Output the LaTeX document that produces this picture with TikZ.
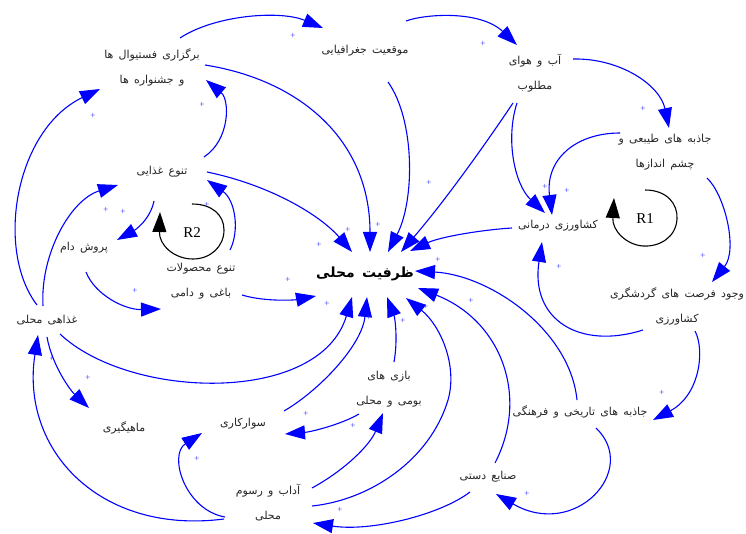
\documentclass[tikz,border=0pt]{standalone}
\usepackage{fontspec}
\TeXXeTstate=1
\setmainfont{Liberation Serif}
\newfontfamily\arabicfont[Script=Arabic,WordSpace=1.5]{DejaVu Sans}
\usetikzlibrary{arrows.meta,calc}
\begin{document}
\begin{tikzpicture}[x=1pt,y=-1pt,
  lbl/.style={inner sep=0pt, align=center, text=black!85, font=\arabicfont\fontsize{11}{25}\selectfont},
  e/.style={draw=blue, line width=1.1pt, -{Triangle[length=20pt,width=14pt]}},
  loopr/.style={draw=black, line width=1.1pt, -{Triangle[length=20pt,width=14pt]}},
  pl/.style={text=blue!80, font=\fontsize{9}{9}\selectfont, inner sep=0pt},
  rl/.style={font=\fontsize{15}{15}\selectfont, inner sep=0pt}]
\useasboundingbox[fill=white] (0,0) rectangle (746,534);
% nodes
\node[lbl] (fest) at (152,67) {\beginR برگزاری فستیوال ها\endR\\\beginR و جشنواره ها\endR};
\node[lbl] (geo) at (365,51) {\beginR موقعیت جغرافیایی\endR};
\node[lbl] (water) at (535,73) {\beginR آب و هوای\endR\\\beginR مطلوب\endR};
\node[lbl] (nat) at (665,152) {\beginR جاذبه های طیبعی و\endR\\\beginR چشم اندازها\endR};
\node[lbl] (diet) at (162,172) {\beginR تنوع غذایی\endR};
\node[lbl] (dam) at (84,248) {\beginR پروش دام\endR};
\node[lbl] (crops) at (201,281) {\beginR تنوع محصولات\endR\\\beginR باغی و دامی\endR};
\node[lbl, text=black, font=\arabicfont\bfseries\fontsize{14}{16}\selectfont] (center) at (365,274) {\beginR ظرفیت محلی\endR};
\node[lbl] (farm) at (558,226) {\beginR کشاورزی درمانی\endR};
\node[lbl] (agtour) at (677,306) {\beginR وجود فرصت های گردشگری\endR\\\beginR کشاورزی\endR};
\node[lbl] (hist) at (580,412) {\beginR جاذبه های تاریخی و فرهنگی\endR};
\node[lbl] (craft) at (488,477) {\beginR صنایع دستی\endR};
\node[lbl] (games) at (389,389) {\beginR بازی های\endR\\\beginR بومی و محلی\endR};
\node[lbl] (ride) at (243,424) {\beginR سوارکاری\endR};
\node[lbl] (customs) at (268,503) {\beginR آداب و رسوم\endR\\\beginR محلی\endR};
\node[lbl] (fish) at (124,428) {\beginR ماهیگیری\endR};
\node[lbl] (localfood) at (47,320) {\beginR غذاهی محلی\endR};
\node[rl] (r1) at (645,219) {R1};
\node[rl] (r2) at (192,233) {R2};
% edges
\draw[e] ($(fest)+(28,-29)$) .. controls (215,15) and (280,10) .. ($(geo)+(-42,-23)$);
\draw[e] ($(geo)+(41,-30)$) .. controls (425,14) and (480,10) .. ($(water)+(-18,-28)$);
\draw[e] ($(water)+(38,-14)$) .. controls (620,58) and (660,85) .. ($(nat)+(4,-24)$);
\draw[e] ($(nat)+(42,26)$) .. controls (725,195) and (738,250) .. ($(agtour)+(35,-24)$);
\draw[e] ($(agtour)+(18,25)$) .. controls (705,350) and (700,395) .. ($(hist)+(73,8)$);
\draw[e] ($(hist)+(16,16)$) .. controls (640,470) and (575,540) .. ($(craft)+(8,17)$);
\draw[e] ($(craft)+(-18,15)$) .. controls (440,515) and (370,532) .. ($(customs)+(45,20)$);
\draw[e] ($(customs)+(44,-15)$) .. controls (345,470) and (370,445) .. ($(games)+(-6,24)$);
\draw[e] ($(customs)+(-43,14)$) .. controls (185,510) and (168,455) .. ($(ride)+(-41,9)$);
\draw[e] ($(customs)+(-44,16)$) .. controls (100,535) and (20,450) .. ($(localfood)+(-9,15)$);
\draw[e] ($(localfood)+(0,17)$) .. controls (52,365) and (70,390) .. ($(fish)+(-35,-20)$);
\draw[e] ($(localfood)+(13,14)$) .. controls (130,400) and (320,405) .. ($(center)+(-13,23)$);
\draw[e] ($(localfood)+(-4,-14)$) .. controls (40,255) and (70,200) .. ($(diet)+(-44,13)$);
\draw[e] ($(localfood)+(-10,-15)$) .. controls (-5,250) and (15,130) .. ($(fest)+(-52,22)$);
\draw[e] ($(diet)+(42,-15)$) .. controls (230,140) and (230,100) .. ($(fest)+(54,13)$);
\draw[e] ($(diet)+(-8,29)$) .. controls (150,220) and (135,230) .. ($(dam)+(33,-8)$);
\draw[e] ($(crops)+(29,-31)$) .. controls (240,230) and (235,200) .. ($(diet)+(45,8)$);
\draw[e] ($(dam)+(2,24)$) .. controls (95,295) and (125,310) .. ($(crops)+(-40,28)$);
\draw[e] ($(crops)+(41,14)$) .. controls (265,302) and (295,300) .. ($(center)+(-49,22)$);
\draw[e] ($(diet)+(45,0)$) .. controls (270,185) and (320,215) .. ($(center)+(-13,-22)$);
\draw[e] ($(fest)+(53,-2)$) .. controls (300,80) and (370,140) .. ($(center)+(5,-22)$);
\draw[e] ($(geo)+(23,31)$) .. controls (415,120) and (415,200) .. ($(center)+(23,-22)$);
\draw[e] ($(water)+(-22,30)$) .. controls (495,130) and (450,195) .. ($(center)+(36,-22)$);
\draw[e] ($(water)+(-18,30)$) .. controls (505,140) and (515,185) .. ($(farm)+(-13,-13)$);
\draw[e] ($(nat)+(-45,-19)$) .. controls (575,133) and (545,160) .. ($(farm)+(-6,-11)$);
\draw[e] ($(farm)+(-46,2)$) .. controls (480,230) and (440,237) .. ($(center)+(45,-23)$);
\draw[e] ($(agtour)+(-34,24)$) .. controls (580,350) and (530,320) .. ($(farm)+(-16,16)$);
\draw[e] ($(hist)+(-3,-12)$) .. controls (570,330) and (490,275) .. ($(center)+(50,-3)$);
\draw[e] ($(craft)+(7,-14)$) .. controls (530,395) and (500,320) .. ($(center)+(53,14)$);
\draw[e] ($(customs)+(44,3)$) .. controls (370,500) and (430,460) .. (448,400) .. controls (458,365) and (440,325) .. ($(center)+(41,24)$);
\draw[e] ($(games)+(5,-27)$) .. controls (398,340) and (395,318) .. ($(center)+(22,23)$);
\draw[e] ($(ride)+(41,-13)$) .. controls (320,390) and (362,345) .. ($(center)+(2,23)$);
\draw[e] ($(games)+(-30,25)$) .. controls (340,425) and (310,432) .. ($(ride)+(42,10)$);
% loops
\draw[loopr] ($(r1)+(0,-29)$) .. controls ($(r1)+(22,-29)$) and ($(r1)+(33,-15)$) .. ($(r1)+(32,0)$) .. controls ($(r1)+(31,18)$) and ($(r1)+(15,28)$) .. ($(r1)+(-2,27)$) .. controls ($(r1)+(-18,26)$) and ($(r1)+(-33,12)$) .. ($(r1)+(-31,-21)$);
\draw[loopr] ($(r2)+(0,-29)$) .. controls ($(r2)+(20,-29)$) and ($(r2)+(32,-18)$) .. ($(r2)+(32,-3)$) .. controls ($(r2)+(32,14)$) and ($(r2)+(18,26)$) .. ($(r2)+(1,26)$) .. controls ($(r2)+(-18,26)$) and ($(r2)+(-33,12)$) .. ($(r2)+(-32,-21)$);
% plus signs
\foreach \p [count=\i] in {(293,36),(483,44),(643,109),(703,256),(662,393),(527,494),(340,510),(353,426),(306,414),(197,459),(52,359),(88,378),(106,210),(93,116),(202,105),(123,212),(207,205),(135,291),(288,280),(319,245),(348,230),(378,225),(429,183),(545,187),(567,191),(438,260),(559,267),(471,301),(426,307),(403,321),(369,318),(327,304)}
  \node[pl] (plus\i) at \p {+};
\end{tikzpicture}
\end{document}
